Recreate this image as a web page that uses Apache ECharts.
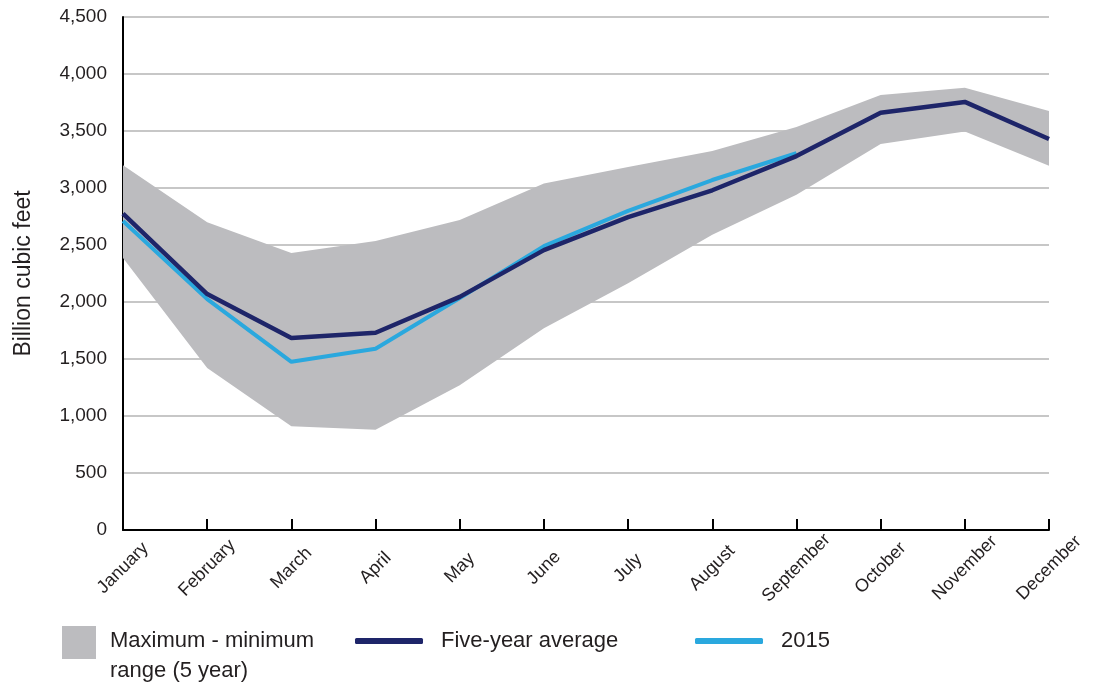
<!DOCTYPE html>
<html>
<head>
<meta charset="utf-8">
<script src="https://cdn.jsdelivr.net/npm/echarts@6/dist/echarts.min.js"></script>
<style>
  html, body { margin: 0; padding: 0; background: #fff; }
  #main { width: 1094px; height: 685px; }
</style>
</head>
<body>
<div id="main"></div>
<script>
const months = ["January", "February", "March", "April", "May", "June", "July",
  "August", "September", "October", "November", "December"];
const rangeMax = [3200, 2700, 2430, 2535, 2720, 3040, 3185, 3325, 3535, 3815, 3880, 3675];
const rangeMin = [2385, 1420, 910, 880, 1270, 1770, 2165, 2590, 2940, 3385, 3495, 3195];
const fiveYearAvg = [2775, 2070, 1685, 1730, 2045, 2455, 2745, 2980, 3280, 3660, 3755, 3430];
const year2015 = [2710, 2025, 1475, 1590, 2035, 2490, 2800, 3070, 3305, null, null, null];
const yTicks = [0, 500, 1000, 1500, 2000, 2500, 3000, 3500, 4000, 4500];

const bandName = "Maximum - minimum\nrange (5 year)";
const gray = "#bcbcbf";
const navy = "#1e2569";
const cyan = "#2aa8de";
const textColor = "#231f20";
const font = "Liberation Sans, Arial, sans-serif";

const bandDiff = rangeMax.map((v, i) => v - rangeMin[i]);

const chart = echarts.init(document.getElementById("main"));
chart.setOption({
  animation: false,
  textStyle: { fontFamily: font },
  grid: {
    left: 123,
    right: 45,
    top: 17,
    bottom: 155,
    outerBoundsMode: "none",
  },
  legend: [
    {
      left: 62,
      top: 626,
      padding: 0,
      // square sits at the top of a taller box so it lines up with the first text line
      icon: "path://M0,0L34,0L34,33L0,33Z M0,60L0.01,60L0.01,60.01Z",
      itemWidth: 34,
      itemHeight: 60,
      data: [bandName],
      selectedMode: false,
      textStyle: {
        fontSize: 22,
        color: textColor,
        lineHeight: 30,
        padding: [0, 0, 0, 9],
      },
    },
    {
      left: 355,
      top: 630,
      padding: 0,
      icon: "roundRect",
      itemWidth: 68,
      itemHeight: 6,
      data: ["Five-year average"],
      selectedMode: false,
      textStyle: { fontSize: 22, color: textColor, padding: [0, 0, 0, 13] },
    },
    {
      left: 695,
      top: 630,
      padding: 0,
      icon: "roundRect",
      itemWidth: 68,
      itemHeight: 6,
      data: ["2015"],
      selectedMode: false,
      textStyle: { fontSize: 22, color: textColor, padding: [0, 0, 0, 13] },
    },
  ],
  xAxis: {
    type: "category",
    data: months,
    boundaryGap: false,
    axisLine: { lineStyle: { color: "#000", width: 2 } },
    axisTick: {
      inside: true,
      length: 11,
      interval: 0,
      lineStyle: { color: "#000", width: 2 },
    },
    axisLabel: {
      interval: 0,
      rotate: 45,
      align: "center",
      verticalAlign: "middle",
      margin: 38,
      fontSize: 18,
      color: textColor,
    },
    splitLine: { show: false },
  },
  yAxis: {
    type: "value",
    min: 0,
    max: 4500,
    interval: 500,
    name: "Billion cubic feet",
    nameLocation: "middle",
    nameGap: 88,
    nameTextStyle: { fontSize: 23, color: textColor },
    axisLine: { show: true, lineStyle: { color: "#000", width: 2 } },
    axisTick: { show: false },
    axisLabel: {
      fontSize: 19,
      color: textColor,
      margin: 16,
      formatter: (v) => (yTicks.includes(v) ? v.toLocaleString("en-US") : ""),
    },
    splitLine: { lineStyle: { color: "#b4b4b4", width: 1.5 } },
  },
  series: [
    {
      name: "min",
      type: "line",
      stack: "range",
      data: rangeMin,
      symbol: "none",
      lineStyle: { width: 0, opacity: 0 },
      itemStyle: { color: "transparent" },
      silent: true,
    },
    {
      name: bandName,
      type: "line",
      stack: "range",
      data: bandDiff,
      symbol: "none",
      lineStyle: { width: 0, opacity: 0 },
      itemStyle: { color: gray },
      areaStyle: { color: gray, opacity: 1 },
      silent: true,
    },
    {
      name: "2015",
      type: "line",
      data: year2015,
      symbol: "none",
      lineStyle: { color: cyan, width: 4 },
      itemStyle: { color: cyan },
    },
    {
      name: "Five-year average",
      type: "line",
      data: fiveYearAvg,
      symbol: "none",
      lineStyle: { color: navy, width: 4.5 },
      itemStyle: { color: navy },
    },
  ],
});
</script>
</body>
</html>
